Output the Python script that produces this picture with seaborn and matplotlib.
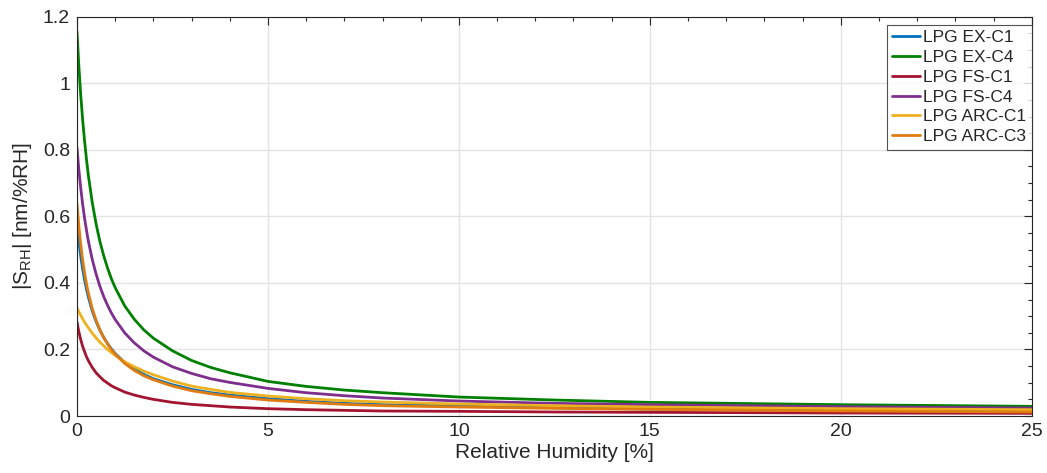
import matplotlib
matplotlib.use("Agg")
import matplotlib.pyplot as plt
from matplotlib.ticker import MultipleLocator, FormatStrFormatter
import pandas as pd
import seaborn as sns

# Relative humidity sample positions [%]
rh = [0, 0.05, 0.1, 0.15, 0.2, 0.25, 0.3, 0.4, 0.5, 0.6, 0.7, 0.8, 0.9, 1.0,
      1.25, 1.5, 1.75, 2, 2.5, 3, 3.5, 4, 5, 6, 7, 8, 10, 12.5, 15, 20, 25]

# |S_RH| sensitivity [nm/%RH] per sensor
ex_c1 = [0.579, 0.524, 0.479, 0.441, 0.409, 0.381, 0.357, 0.316, 0.284, 0.258,
         0.236, 0.218, 0.202, 0.188, 0.161, 0.141, 0.125, 0.112, 0.094, 0.080,
         0.070, 0.063, 0.052, 0.044, 0.038, 0.034, 0.030, 0.025, 0.021, 0.017,
         0.014]
ex_c4 = [1.156, 1.051, 0.963, 0.889, 0.826, 0.771, 0.722, 0.642, 0.578, 0.525,
         0.482, 0.445, 0.413, 0.386, 0.331, 0.291, 0.259, 0.234, 0.196, 0.167,
         0.146, 0.130, 0.104, 0.089, 0.078, 0.070, 0.057, 0.048, 0.041, 0.034,
         0.029]
fs_c1 = [0.283, 0.253, 0.229, 0.209, 0.193, 0.178, 0.166, 0.146, 0.130, 0.118,
         0.107, 0.099, 0.091, 0.085, 0.072, 0.063, 0.056, 0.050, 0.041, 0.035,
         0.031, 0.027, 0.022, 0.019, 0.017, 0.015, 0.014, 0.012, 0.011, 0.009,
         0.008]
fs_c4 = [0.807, 0.740, 0.684, 0.636, 0.594, 0.558, 0.525, 0.471, 0.427, 0.390,
         0.359, 0.333, 0.310, 0.290, 0.250, 0.220, 0.196, 0.177, 0.148, 0.128,
         0.112, 0.101, 0.083, 0.070, 0.061, 0.054, 0.045, 0.038, 0.034, 0.028,
         0.024]
arc_c1 = [0.325, 0.313, 0.302, 0.292, 0.282, 0.273, 0.265, 0.249, 0.235, 0.222,
          0.211, 0.200, 0.191, 0.182, 0.163, 0.148, 0.135, 0.124, 0.105, 0.090,
          0.080, 0.071, 0.060, 0.052, 0.046, 0.042, 0.036, 0.031, 0.027, 0.022,
          0.019]
arc_c3 = [0.640, 0.570, 0.514, 0.468, 0.430, 0.397, 0.369, 0.323, 0.288, 0.259,
          0.236, 0.217, 0.200, 0.186, 0.158, 0.137, 0.121, 0.109, 0.090, 0.076,
          0.067, 0.059, 0.048, 0.041, 0.035, 0.031, 0.027, 0.023, 0.020, 0.015,
          0.012]

labels = ["LPG EX-C1", "LPG EX-C4", "LPG FS-C1", "LPG FS-C4",
          "LPG ARC-C1", "LPG ARC-C3"]
colors = ["#0072BD", "#008000", "#A2142F", "#7E2F8E", "#EDB120", "#E07B10"]
series = [ex_c1, ex_c4, fs_c1, fs_c4, arc_c1, arc_c3]

df = pd.concat(
    [pd.DataFrame({"rh": rh, "s": vals, "sensor": name})
     for name, vals in zip(labels, series)],
    ignore_index=True,
)

sns.set_theme(style="white")
plt.rcParams["font.family"] = ["Liberation Sans", "DejaVu Sans"]
plt.rcParams["mathtext.fontset"] = "custom"
plt.rcParams["mathtext.rm"] = "Liberation Sans"
plt.rcParams["mathtext.it"] = "Liberation Sans:italic"

fig = plt.figure(figsize=(10.47, 4.73), dpi=100)
ax = fig.add_axes([0.0735, 0.1205, 0.912, 0.844])

sns.lineplot(data=df, x="rh", y="s", hue="sensor", hue_order=labels,
             palette=dict(zip(labels, colors)), linewidth=2.0, ax=ax,
             sort=False, estimator=None)

ax.set_xlim(0, 25)
ax.set_ylim(0, 1.2)
ax.xaxis.set_major_locator(MultipleLocator(5))
ax.xaxis.set_minor_locator(MultipleLocator(1))
ax.yaxis.set_major_locator(MultipleLocator(0.2))
ax.yaxis.set_minor_locator(MultipleLocator(0.05))
ax.xaxis.set_major_formatter(FormatStrFormatter("%g"))
ax.yaxis.set_major_formatter(FormatStrFormatter("%g"))

ax.grid(True, which="major", color="#E3E3E3", linewidth=1.0)
ax.set_axisbelow(True)
for sp in ax.spines.values():
    sp.set_color("#262626")
    sp.set_linewidth(0.8)
ax.tick_params(which="both", direction="in", top=True, right=True,
               color="#262626", labelcolor="#262626")
ax.tick_params(which="major", length=6, width=0.8, labelsize=14, pad=5)
ax.tick_params(which="minor", length=3, width=0.8)

ax.set_xlabel("Relative Humidity [%]", fontsize=15, color="#262626", labelpad=2)
ax.set_ylabel(r"$|\mathrm{S}_{\mathrm{RH}}|$ [nm/%RH]", fontsize=15,
              color="#262626", labelpad=6)

leg = ax.legend(loc="upper right", bbox_to_anchor=(1.0, 0.98), fontsize=12.5,
                frameon=True, fancybox=False, handlelength=1.6,
                handletextpad=0.2, borderpad=0.3, labelspacing=0.27,
                borderaxespad=0.0)
leg.get_frame().set_edgecolor("#262626")
leg.get_frame().set_linewidth(0.8)
for line in leg.get_lines():
    line.set_linewidth(2.0)

fig.savefig("out.png", dpi=100)
